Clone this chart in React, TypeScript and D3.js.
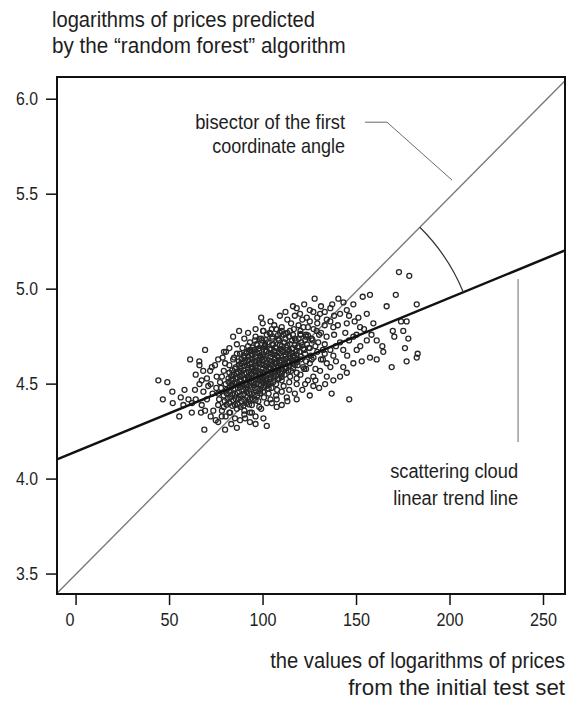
import React from "react";
import * as d3 from "d3";

// ---- data ----
const xTicks = [0, 50, 100, 150, 200, 250];
const yTicks = [3.5, 4.0, 4.5, 5.0, 5.5, 6.0];
const xDomain = [-10.2, 261.5];
const yDomain = [3.395, 6.117];

// bisector of the first coordinate angle and linear trend line: y = a + b x
const bisectorLine = [3.5, 0.00993];
const trendLine = [4.145, 0.00405];

const titleLines = ["logarithms of prices predicted", "by the \u201crandom forest\u201d algorithm"];
const xLabelLines = ["the values of logarithms of prices", "from the initial test set"];
const bisectorLabel = ["bisector of the first", "coordinate angle"];
const trendLabel = ["scattering cloud", "linear trend line"];

// annotation anchor points (data units)
const bisectorLeader = [[154.5, 5.879], [166.3, 5.879], [201.1, 5.574]];
const trendLeader = [[236.4, 5.053], [236.4, 4.195]];
const bisectorLabelAnchor = [143.9, 5.842];
const trendLabelAnchor = [236.4, 4.005];

// peripheral points of the cloud
const outerPoints = [
  [44.0, 4.52], [48.8, 4.51], [46.4, 4.42], [51.5, 4.46], [51.7, 4.40], [55.2, 4.33], [57.4, 4.39],
  [60.1, 4.42], [61.0, 4.63], [65.9, 4.62], [69.0, 4.68], [61.9, 4.35], [66.8, 4.35], [68.6, 4.26],
  [74.7, 4.31], [67.2, 4.52], [63.6, 4.47], [71.7, 4.57], [74.3, 4.60], [79.7, 4.61], [84.5, 4.64],
  [91.3, 4.67], [95.7, 4.73], [101.1, 4.71], [68.1, 4.46], [77.9, 4.33], [79.7, 4.26], [90.4, 4.32],
  [100.2, 4.32], [102.0, 4.28], [87.2, 4.78], [99.8, 4.82], [79.1, 4.67], [72.6, 4.59], [75.2, 4.54],
  [70.7, 4.49], [67.2, 4.39], [73.4, 4.36], [82.4, 4.35], [87.7, 4.31], [93.0, 4.35], [80.2, 4.67],
  [78.4, 4.64], [87.7, 4.66], [93.0, 4.68], [100.2, 4.78], [104.7, 4.79], [107.3, 4.42], [104.7, 4.40],
  [107.3, 4.38], [112.7, 4.43], [118.0, 4.50], [122.5, 4.50], [126.9, 4.49], [133.2, 4.50], [136.7, 4.45],
  [146.1, 4.42], [141.2, 4.54], [142.9, 4.59], [148.3, 4.61], [152.8, 4.62], [144.8, 4.56], [137.6, 4.52],
  [134.1, 4.54], [126.9, 4.54], [130.5, 4.57], [134.1, 4.61], [137.6, 4.65], [142.9, 4.68], [150.1, 4.68],
  [141.2, 4.72], [148.3, 4.75], [155.5, 4.73], [157.2, 4.64], [160.8, 4.63],
  [127.6, 4.95], [140.3, 4.95], [126.9, 4.88], [157.2, 4.97], [153.3, 4.96], [119.8, 4.87], [123.4, 4.85],
  [130.5, 4.87], [134.1, 4.84], [141.2, 4.87], [144.8, 4.89], [148.3, 4.92], [151.0, 4.85], [155.5, 4.87],
  [159.0, 4.82], [151.9, 4.80], [144.8, 4.82], [137.6, 4.80], [128.7, 4.78], [121.6, 4.80], [114.4, 4.78],
  [109.1, 4.77],
  [172.7, 5.09], [178.2, 5.07], [171.0, 4.97], [166.1, 4.91], [182.2, 4.92], [173.8, 4.83], [176.8, 4.83],
  [169.4, 4.78], [175.0, 4.78], [170.2, 4.75], [177.7, 4.74], [163.8, 4.70], [175.9, 4.69], [164.3, 4.67],
  [182.7, 4.66], [182.2, 4.64], [176.8, 4.62], [168.8, 4.59], [160.8, 4.73],
];

// medium-density points around the core
const midPoints = [
  [118, 4.90], [122, 4.92], [125, 4.89], [131, 4.91], [136, 4.90], [138, 4.86], [133, 4.88], [129, 4.85],
  [125, 4.83], [121, 4.84], [117, 4.86], [113, 4.84], [112, 4.88], [136, 4.83], [140, 4.81], [146, 4.86],
  [149, 4.83], [138, 4.76], [144, 4.77], [146, 4.73], [139, 4.70], [136, 4.68], [145, 4.65], [152, 4.70],
  [150, 4.76], [154, 4.79], [158, 4.76], [137, 4.92], [143, 4.93], [116, 4.91],
  [64, 4.55], [68, 4.57], [70, 4.53], [72, 4.50], [66, 4.50], [64, 4.42], [70, 4.42], [73, 4.45],
  [75, 4.48], [69, 4.36], [72, 4.33], [76, 4.30], [83, 4.29], [86, 4.27], [93, 4.30], [96, 4.29],
  [58, 4.47], [56, 4.43], [62, 4.40], [66, 4.60], [76, 4.63], [82, 4.69], [86, 4.71], [90, 4.74],
  [84, 4.75], [92, 4.77], [96, 4.79], [104, 4.83], [109, 4.86], [99, 4.85],
  [110, 4.46], [114, 4.47], [117, 4.45], [121, 4.47], [124, 4.52], [128, 4.52], [113, 4.41], [118, 4.42],
  [110, 4.39], [125, 4.44], [130, 4.48], [120, 4.55], [128, 4.58], [132, 4.63], [136, 4.59], [139, 4.62],
  [123, 4.58], [126, 4.63],
];

// dense core of the cloud
const corePoints = [
  [106, 4.81], [110, 4.80], [115, 4.82], [119, 4.81], [124, 4.80], [129, 4.82], [133, 4.81],
  [100, 4.78], [103.5, 4.77], [107, 4.79], [110, 4.78], [113, 4.77], [116.5, 4.79], [120, 4.78], [123, 4.76], [127, 4.79], [131, 4.77],
  [96, 4.75], [99, 4.74], [102, 4.76], [105, 4.75], [108, 4.74], [111, 4.76], [114, 4.75], [117, 4.74], [120, 4.76], [123, 4.75], [126, 4.74], [130, 4.76], [134, 4.75],
  [93, 4.72], [96.5, 4.71], [99.5, 4.73], [102.5, 4.72], [105.5, 4.71], [108.5, 4.73], [111.5, 4.72], [114.5, 4.71], [117.5, 4.73], [120.5, 4.72], [123.5, 4.71], [126.5, 4.73], [129.5, 4.72], [133, 4.71],
  [89, 4.69], [92, 4.70], [95, 4.68], [98, 4.69], [101, 4.70], [104, 4.68], [107, 4.69], [110, 4.70], [113, 4.68], [116, 4.69], [119, 4.70], [122, 4.68], [125, 4.69], [128, 4.70], [132, 4.68],
  [86, 4.66], [89.5, 4.65], [92.5, 4.67], [95.5, 4.66], [98.5, 4.65], [101.5, 4.67], [104.5, 4.66], [107.5, 4.65], [110.5, 4.67], [113.5, 4.66], [116.5, 4.65], [119.5, 4.67], [122.5, 4.66], [125.5, 4.65], [129, 4.67], [133, 4.66],
  [84, 4.63], [87, 4.62], [90, 4.64], [93, 4.63], [96, 4.62], [99, 4.64], [102, 4.63], [105, 4.62], [108, 4.64], [111, 4.63], [114, 4.62], [117, 4.64], [120, 4.63], [123, 4.62], [127, 4.64], [131, 4.63],
  [82, 4.60], [85.5, 4.59], [88.5, 4.61], [91.5, 4.60], [94.5, 4.59], [97.5, 4.61], [100.5, 4.60], [103.5, 4.59], [106.5, 4.61], [109.5, 4.60], [112.5, 4.59], [115.5, 4.61], [118.5, 4.60], [121.5, 4.59], [125, 4.61],
  [79, 4.57], [82, 4.56], [85, 4.58], [88, 4.57], [91, 4.56], [94, 4.58], [97, 4.57], [100, 4.56], [103, 4.58], [106, 4.57], [109, 4.56], [112, 4.58], [115, 4.57], [118, 4.56], [122, 4.58],
  [78, 4.54], [81.5, 4.53], [84.5, 4.55], [87.5, 4.54], [90.5, 4.53], [93.5, 4.55], [96.5, 4.54], [99.5, 4.53], [102.5, 4.55], [105.5, 4.54], [108.5, 4.53], [111.5, 4.55], [114.5, 4.54], [118, 4.53],
  [77, 4.51], [80, 4.50], [83, 4.52], [86, 4.51], [89, 4.50], [92, 4.52], [95, 4.51], [98, 4.50], [101, 4.52], [104, 4.51], [107, 4.50], [110, 4.52], [114, 4.51],
  [77.5, 4.48], [80.5, 4.47], [83.5, 4.49], [86.5, 4.48], [89.5, 4.47], [92.5, 4.49], [95.5, 4.48], [98.5, 4.47], [101.5, 4.49], [104.5, 4.48], [107.5, 4.47], [111, 4.49],
  [76, 4.45], [79, 4.44], [82, 4.46], [85, 4.45], [88, 4.44], [91, 4.46], [94, 4.45], [97, 4.44], [100, 4.46], [103, 4.45], [107, 4.44],
  [76.5, 4.42], [79.5, 4.41], [82.5, 4.43], [85.5, 4.42], [88.5, 4.41], [91.5, 4.43], [94.5, 4.42], [97.5, 4.41], [100.5, 4.43], [104, 4.42],
  [76, 4.39], [79, 4.38], [82, 4.40], [85, 4.39], [88, 4.38], [91, 4.40], [94, 4.39], [98, 4.38], [102, 4.40],
  [78, 4.36], [82, 4.35], [86, 4.37], [90, 4.36], [94, 4.35], [99, 4.37],
  [80, 4.33], [85, 4.32], [90, 4.34], [96, 4.33],
  [97, 4.705], [101, 4.705], [105, 4.705], [109, 4.705], [113, 4.705], [117, 4.705], [121, 4.705],
  [94, 4.675], [98, 4.675], [102, 4.675], [106, 4.675], [110, 4.675], [114, 4.675], [118, 4.675],
  [92, 4.645], [96, 4.645], [100, 4.645], [104, 4.645], [108, 4.645], [112, 4.645], [116, 4.645], [120, 4.645],
  [90, 4.615], [94, 4.615], [98, 4.615], [102, 4.615], [106, 4.615], [110, 4.615], [114, 4.615], [118, 4.615],
  [88, 4.585], [92, 4.585], [96, 4.585], [100, 4.585], [104, 4.585], [108, 4.585], [112, 4.585], [116, 4.585],
  [86, 4.555], [90, 4.555], [94, 4.555], [98, 4.555], [102, 4.555], [106, 4.555], [110, 4.555],
  [84, 4.525], [88, 4.525], [92, 4.525], [96, 4.525], [100, 4.525], [104, 4.525], [108, 4.525],
  [83, 4.495], [87, 4.495], [91, 4.495], [95, 4.495], [99, 4.495], [103, 4.495],
];

// darkest centre of the cloud (extra overlapping points)
const densePoints = [
  [104, 4.765], [108, 4.758], [112, 4.766], [116, 4.759], [120, 4.764], [124, 4.757],
  [98, 4.738], [101.5, 4.732], [105, 4.74], [108.5, 4.733], [112, 4.739], [115.5, 4.731], [119, 4.737], [122.5, 4.732], [126, 4.738],
  [94.5, 4.692], [97.5, 4.686], [100.5, 4.694], [103.5, 4.687], [106.5, 4.693], [109.5, 4.685], [112.5, 4.692], [115.5, 4.686], [118.5, 4.693], [121.5, 4.687], [124.5, 4.691],
  [91, 4.662], [94, 4.656], [97, 4.664], [100, 4.657], [103, 4.663], [106, 4.655], [109, 4.662], [112, 4.656], [115, 4.663], [118, 4.657],
  [88.5, 4.632], [91.5, 4.626], [94.5, 4.634], [97.5, 4.627], [100.5, 4.633], [103.5, 4.625], [106.5, 4.632], [109.5, 4.626], [112.5, 4.633], [115.5, 4.627], [118.5, 4.631],
  [87, 4.602], [90, 4.596], [93, 4.604], [96, 4.597], [99, 4.603], [102, 4.595], [105, 4.602], [108, 4.596], [111, 4.603], [114, 4.597], [117, 4.601],
  [83.5, 4.572], [86.5, 4.566], [89.5, 4.574], [92.5, 4.567], [95.5, 4.573], [98.5, 4.565], [101.5, 4.572], [104.5, 4.566], [107.5, 4.573], [110.5, 4.567], [113.5, 4.571],
  [83, 4.542], [86, 4.536], [89, 4.544], [92, 4.537], [95, 4.543], [98, 4.535], [101, 4.542], [104, 4.536], [107, 4.543], [110, 4.537],
  [81.5, 4.512], [84.5, 4.506], [87.5, 4.514], [90.5, 4.507], [93.5, 4.513], [96.5, 4.505], [99.5, 4.512], [102.5, 4.506], [105.5, 4.511],
  [82, 4.482], [85, 4.476], [88, 4.484], [91, 4.477], [94, 4.483], [97, 4.475], [100, 4.482], [103, 4.477],
  [80.5, 4.452], [83.5, 4.446], [86.5, 4.454], [89.5, 4.447], [92.5, 4.453], [95.5, 4.445], [98.5, 4.451],
  [81, 4.422], [84, 4.416], [87, 4.424], [90, 4.417], [93, 4.423], [96, 4.415],
  [80.5, 4.392], [83.5, 4.386], [86.5, 4.394], [89.5, 4.387], [92.5, 4.393],
];

// ---- layout / style ----
const W = 573;
const H = 701;
const FRAME = { left: 57, right: 565, top: 77, bottom: 594 };
const FONT_NAME = "Liberation Sans";
const FONT = "'Liberation Sans', Arial, sans-serif";
const TEXT = "#1e1e1e";
const ARC_R = 197;

// widths of text lines in the reference (px) – used to emulate the condensed face
const titleWidths = [263, 294];
const xLabelWidths = [295, 217];
const bisectorLabelWidths = [150, 133];
const trendLabelWidths = [128, 125];

let ctx: CanvasRenderingContext2D | null = null;
function measure(s: string, size: number) {
  if (!ctx) ctx = document.createElement("canvas").getContext("2d");
  if (!ctx) return s.length * size * 0.5;
  ctx.font = `${size}px '${FONT_NAME}'`;
  return ctx.measureText(s).width;
}

function CText(props: { text: string; x: number; y: number; size: number; width: number; anchor?: string }) {
  const { text, x, y, size, width, anchor } = props;
  const k = width / measure(text, size);
  return (
    <text
      transform={`translate(${x},${y}) scale(${k},1)`}
      fontSize={size}
      textAnchor={anchor || "start"}
      fill={TEXT}
    >
      {text}
    </text>
  );
}

const tickLabelWidth = (s: string) => s.replace(".", "").length * 9 + (s.includes(".") ? 4 : 0);

export default function App() {
  const x = d3.scaleLinear().domain(xDomain).range([FRAME.left, FRAME.right]);
  const y = d3.scaleLinear().domain(yDomain).range([FRAME.bottom, FRAME.top]);

  const lineAt = (l: number[], xv: number) => l[0] + l[1] * xv;
  const clipY = (l: number[]) => {
    const x0 = xDomain[0];
    let y0 = lineAt(l, x0);
    let xs0 = x0;
    if (y0 < yDomain[0]) {
      xs0 = (yDomain[0] - l[0]) / l[1];
      y0 = yDomain[0];
    }
    let xs1 = xDomain[1];
    let y1 = lineAt(l, xs1);
    if (y1 > yDomain[1]) {
      xs1 = (yDomain[1] - l[0]) / l[1];
      y1 = yDomain[1];
    }
    return [[xs0, y0], [xs1, y1]];
  };
  const lineGen = d3.line<number[]>().x((d) => x(d[0])).y((d) => y(d[1]));

  const ix = (trendLine[0] - bisectorLine[0]) / (bisectorLine[1] - trendLine[1]);
  const iy = lineAt(trendLine, ix);
  const cx = x(ix);
  const cy = y(iy);
  const angOf = (l: number[]) => {
    const dx = x(ix + 10) - x(ix);
    const dy = y(lineAt(l, ix + 10)) - y(lineAt(l, ix));
    return Math.atan2(dy, dx);
  };
  const a1 = angOf(bisectorLine);
  const a2 = angOf(trendLine);
  const arcD = `M${cx + ARC_R * Math.cos(a1)},${cy + ARC_R * Math.sin(a1)} A${ARC_R},${ARC_R} 0 0 1 ${cx + ARC_R * Math.cos(a2)},${cy + ARC_R * Math.sin(a2)}`;

  const allPoints = [...outerPoints, ...midPoints, ...corePoints, ...densePoints];

  return (
    <svg width={W} height={H} style={{ display: "block", position: "absolute", left: 0, top: 0 }} fontFamily={FONT}>
      <rect x={0} y={0} width={W} height={H} fill="#fff" />
      {titleLines.map((t, i) => (
        <CText key={t} text={t} x={52} y={27 + i * 26} size={22} width={titleWidths[i]} />
      ))}
      <path d={lineGen(clipY(bisectorLine)) || ""} stroke="#7a7a7a" strokeWidth={1.4} fill="none" />
      {allPoints.map((p, i) => (
        <circle key={i} cx={x(p[0])} cy={y(p[1])} r={2.5} fill="none" stroke="#262626" strokeWidth={1.3} />
      ))}
      <path d={lineGen(clipY(trendLine)) || ""} stroke="#111" strokeWidth={2.5} fill="none" />
      <path d={arcD} stroke="#333" strokeWidth={1.2} fill="none" />
      <path d={lineGen(bisectorLeader) || ""} stroke="#6a6a6a" strokeWidth={1} fill="none" />
      <path d={lineGen(trendLeader) || ""} stroke="#6a6a6a" strokeWidth={1} fill="none" />
      {bisectorLabel.map((t, i) => (
        <CText key={t} text={t} x={x(bisectorLabelAnchor[0])} y={y(bisectorLabelAnchor[1]) + i * 24} size={21} width={bisectorLabelWidths[i]} anchor="end" />
      ))}
      {trendLabel.map((t, i) => (
        <CText key={t} text={t} x={x(trendLabelAnchor[0])} y={y(trendLabelAnchor[1]) + i * 27} size={21} width={trendLabelWidths[i]} anchor="end" />
      ))}
      <rect x={FRAME.left} y={FRAME.top} width={FRAME.right - FRAME.left} height={FRAME.bottom - FRAME.top} fill="none" stroke="#111" strokeWidth={2} />
      {yTicks.map((v) => {
        const s = d3.format(".1f")(v);
        return (
          <g key={v}>
            <line x1={FRAME.left - 11} x2={FRAME.left} y1={y(v)} y2={y(v)} stroke="#111" strokeWidth={1.5} />
            <CText text={s} x={38} y={y(v) + 5.5} size={18} width={tickLabelWidth(s)} anchor="end" />
          </g>
        );
      })}
      {xTicks.map((v) => {
        const s = String(v);
        return (
          <g key={v}>
            <line x1={x(v)} x2={x(v)} y1={FRAME.bottom} y2={FRAME.bottom + 11} stroke="#111" strokeWidth={1.5} />
            <CText text={s} x={x(v) + (v === 0 ? -6 : 0)} y={626} size={18} width={tickLabelWidth(s)} anchor="middle" />
          </g>
        );
      })}
      {xLabelLines.map((t, i) => (
        <CText key={t} text={t} x={565} y={668 + i * 27} size={22} width={xLabelWidths[i]} anchor="end" />
      ))}
    </svg>
  );
}
